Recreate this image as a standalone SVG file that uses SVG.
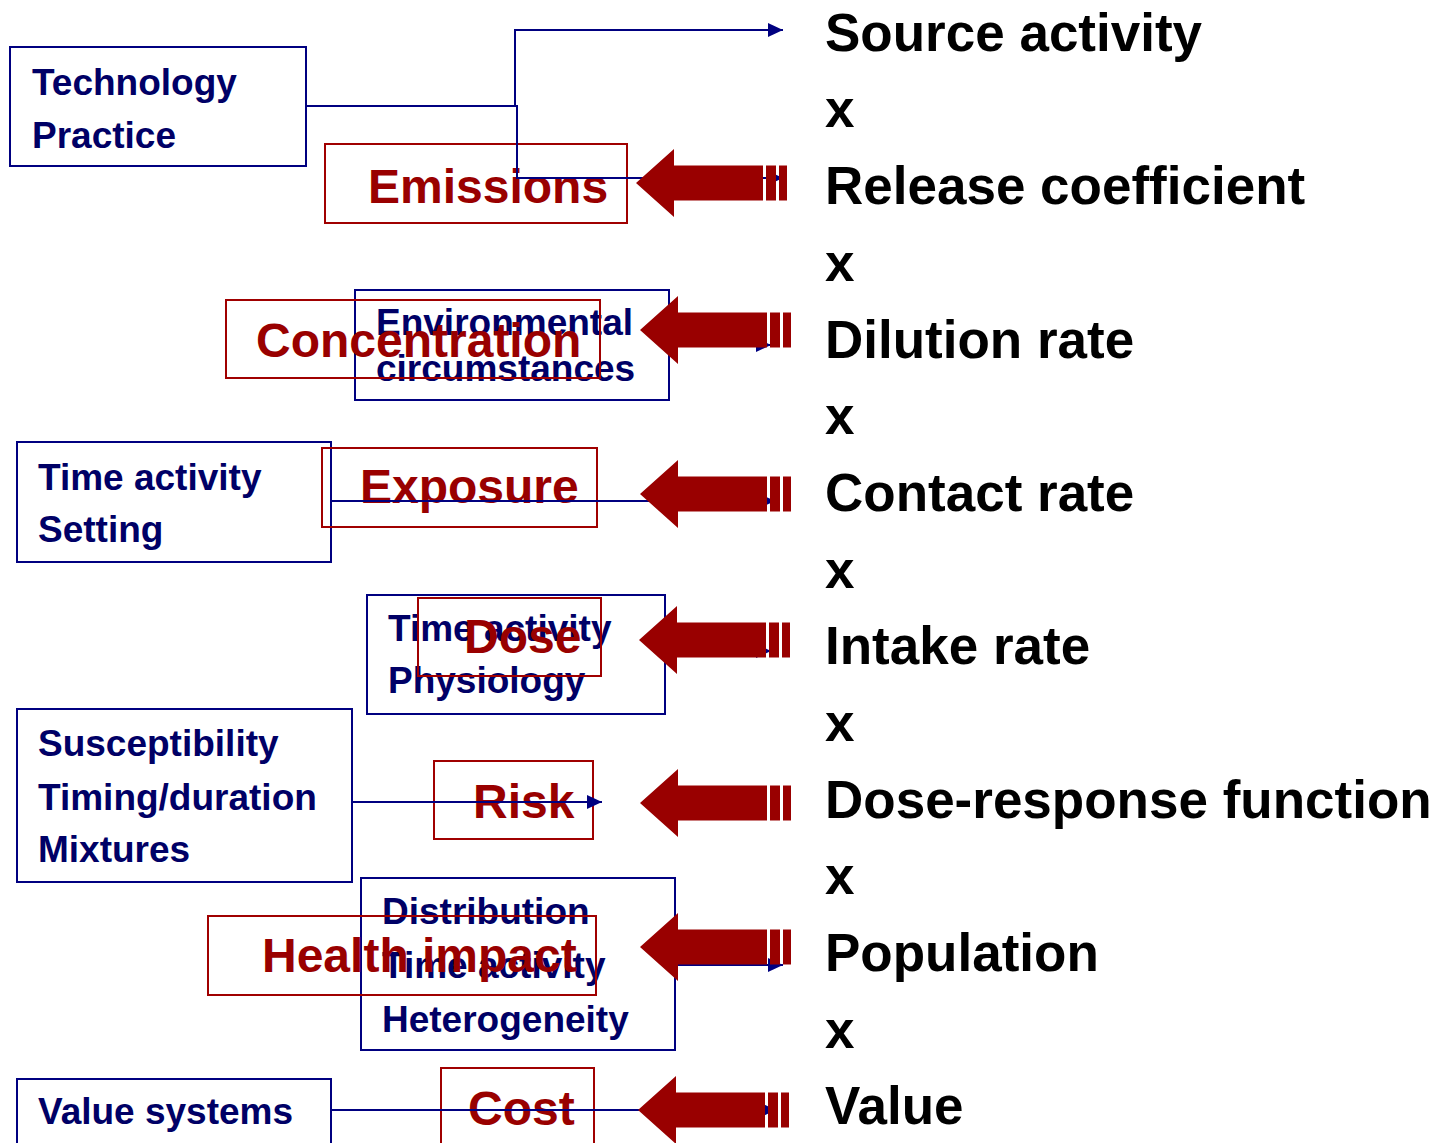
<svg xmlns="http://www.w3.org/2000/svg" width="1438" height="1143" viewBox="0 0 1438 1143">
  <style>
    .box { fill: none; stroke: #000080; stroke-width: 2; }
    .rbox { fill: none; stroke: #a00000; stroke-width: 2; }
    .btxt { font-family: "Liberation Sans", Arial, sans-serif; font-weight: bold; font-size: 37px; fill: #000066; }
    .rtxt { font-family: "Liberation Sans", Arial, sans-serif; font-weight: bold; font-size: 48px; fill: #990000; }
    .ktxt { font-family: "Liberation Sans", Arial, sans-serif; font-weight: bold; font-size: 53px; fill: #000000; }
    .conn { fill: none; stroke: #000080; stroke-width: 2; }
    .big { fill: #990000; }
  </style>
  <defs>
    <marker id="ah" markerUnits="userSpaceOnUse" markerWidth="16" markerHeight="14" refX="15" refY="7" orient="auto">
      <path d="M0,0 L15,7 L0,14 Z" fill="#000080"/>
    </marker>
    <!-- striped block arrow pointing left, tip at origin -->
    <g id="bigArrow">
      <path class="big" d="M0,0 L38,-34 L38,-17.5 L127,-17.5 L127,17.5 L38,17.5 L38,34 Z"/>
      <rect class="big" x="130" y="-17.5" width="10" height="35"/>
      <rect class="big" x="143" y="-17.5" width="8" height="35"/>
    </g>
  </defs>

  <!-- factor chain on the right -->
  <g id="factors">
    <text class="ktxt" x="825" y="51">Source activity</text>
    <text class="ktxt" x="825" y="127">x</text>
    <text class="ktxt" x="825" y="204">Release coefficient</text>
    <text class="ktxt" x="825" y="281">x</text>
    <text class="ktxt" x="825" y="358">Dilution rate</text>
    <text class="ktxt" x="825" y="434">x</text>
    <text class="ktxt" x="825" y="511">Contact rate</text>
    <text class="ktxt" x="825" y="588">x</text>
    <text class="ktxt" x="825" y="664">Intake rate</text>
    <text class="ktxt" x="825" y="741">x</text>
    <text class="ktxt" x="825" y="818">Dose-response function</text>
    <text class="ktxt" x="825" y="894">x</text>
    <text class="ktxt" x="825" y="971">Population</text>
    <text class="ktxt" x="825" y="1048">x</text>
    <text class="ktxt" x="825" y="1124">Value</text>
  </g>

  <!-- modifier boxes -->
  <g id="technology">
    <rect class="box" x="10" y="47" width="296" height="119"/>
    <text class="btxt" x="32" y="95">Technology</text>
    <text class="btxt" x="32" y="148">Practice</text>
  </g>
  <g id="environment">
    <rect class="box" x="355" y="290" width="314" height="110"/>
    <text class="btxt" x="376" y="335">Environmental</text>
    <text class="btxt" x="376" y="381">circumstances</text>
  </g>
  <g id="timeSetting">
    <rect class="box" x="17" y="442" width="314" height="120"/>
    <text class="btxt" x="38" y="490">Time activity</text>
    <text class="btxt" x="38" y="542">Setting</text>
  </g>
  <g id="timePhysiology">
    <rect class="box" x="367" y="595" width="298" height="119"/>
    <text class="btxt" x="388" y="641">Time activity</text>
    <text class="btxt" x="388" y="693">Physiology</text>
  </g>
  <g id="susceptibility">
    <rect class="box" x="17" y="709" width="335" height="173"/>
    <text class="btxt" x="38" y="756">Susceptibility</text>
    <text class="btxt" x="38" y="810">Timing/duration</text>
    <text class="btxt" x="38" y="862">Mixtures</text>
  </g>
  <g id="distribution">
    <rect class="box" x="361" y="878" width="314" height="172"/>
    <text class="btxt" x="382" y="924">Distribution</text>
    <text class="btxt" x="382" y="978">Time activity</text>
    <text class="btxt" x="382" y="1032">Heterogeneity</text>
  </g>
  <g id="valueSystems">
    <rect class="box" x="17" y="1079" width="314" height="80"/>
    <text class="btxt" x="38" y="1124">Value systems</text>
  </g>

  <!-- chain stages -->
  <g id="emissions">
    <rect class="rbox" x="325" y="144" width="302" height="79"/>
    <text class="rtxt" x="368" y="203">Emissions</text>
  </g>
  <g id="concentration">
    <rect class="rbox" x="226" y="300" width="374" height="78"/>
    <text class="rtxt" x="256" y="357">Concentration</text>
  </g>
  <g id="exposure">
    <rect class="rbox" x="322" y="448" width="275" height="79"/>
    <text class="rtxt" x="360" y="503">Exposure</text>
  </g>
  <g id="dose">
    <rect class="rbox" x="418" y="598" width="183" height="78"/>
    <text class="rtxt" x="464" y="653">Dose</text>
  </g>
  <g id="risk">
    <rect class="rbox" x="434" y="761" width="159" height="78"/>
    <text class="rtxt" x="473" y="818">Risk</text>
  </g>
  <g id="healthImpact">
    <rect class="rbox" x="208" y="916" width="388" height="79"/>
    <text class="rtxt" x="262" y="972">Health impact</text>
  </g>
  <g id="cost">
    <rect class="rbox" x="441" y="1068" width="153" height="90"/>
    <text class="rtxt" x="468" y="1125">Cost</text>
  </g>

  <!-- thin connectors -->
  <g id="connectors">
    <path class="conn" d="M306,106 H515 V30 H783" marker-end="url(#ah)"/>
    <path class="conn" d="M306,106 H517 V178 H783" marker-end="url(#ah)"/>
    <path class="conn" d="M669,345 H771" marker-end="url(#ah)"/>
    <path class="conn" d="M331,501 H775" marker-end="url(#ah)"/>
    <path class="conn" d="M665,651 H771" marker-end="url(#ah)"/>
    <path class="conn" d="M352,802 H602" marker-end="url(#ah)"/>
    <path class="conn" d="M675,965 H783" marker-end="url(#ah)"/>
    <path class="conn" d="M331,1110 H776" marker-end="url(#ah)"/>
  </g>

  <!-- striped block arrows -->
  <g id="blockArrows">
    <use href="#bigArrow" x="636" y="183"/>
    <use href="#bigArrow" x="640" y="330"/>
    <use href="#bigArrow" x="640" y="494"/>
    <use href="#bigArrow" x="639" y="640"/>
    <use href="#bigArrow" x="640" y="803"/>
    <use href="#bigArrow" x="640" y="947"/>
    <use href="#bigArrow" x="638" y="1110"/>
  </g>
</svg>
